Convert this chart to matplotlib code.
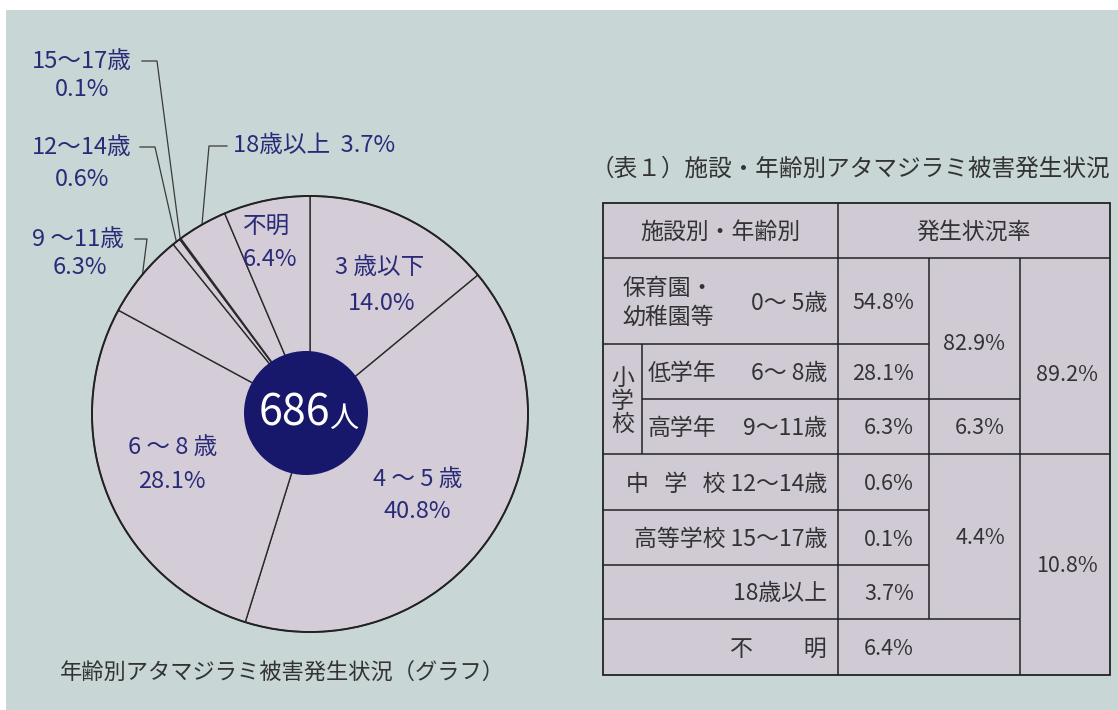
import matplotlib
matplotlib.use("Agg")
import numpy as np
import matplotlib.pyplot as plt
from matplotlib.patches import Circle, Rectangle

plt.rcParams['font.family'] = ['Noto Sans CJK JP', 'DejaVu Sans']

# pie: share of cases by age, clockwise from 12 o'clock
ages = ["3 歳以下", "4 ～ 5 歳", "6 ～ 8 歳", "9 ～11歳", "12～14歳", "15～17歳", "18歳以上", "不明"]
shares = [14.0, 40.8, 28.1, 6.3, 0.6, 0.1, 3.7, 6.4]
total_people = "686"

# table 1: rate by facility / age
tbl_facility = ["保育園・\n幼稚園等", "低学年", "高学年", "中   学   校", "高等学校", "", "不　　 明"]
tbl_age = ["0～ 5歳", "6～ 8歳", "9～11歳", "12～14歳", "15～17歳", "18歳以上", ""]
tbl_rate = ["54.8%", "28.1%", "6.3%", "0.6%", "0.1%", "3.7%", "6.4%"]
sub_totals = ["82.9%", "6.3%", "4.4%"]
sub_rows = [(0, 1), (2, 2), (3, 5)]
grand_totals = ["89.2%", "10.8%"]
grand_rows = [(0, 2), (3, 6)]

BG = "#c8d7d5"
WEDGE = "#d4cdd8"
TABLE = "#d0cad5"
NAVY = "#2a2b78"
DARK = "#333333"

fig = plt.figure(figsize=(11.18, 7.10), dpi=100, facecolor="white")
ax = fig.add_axes([0, 0, 1, 1])
ax.add_patch(Rectangle((6, 10), 1118, 710, facecolor=BG, edgecolor="none", zorder=0))

# ---- pie ----
cx, cy, r = 310, 414, 218
wedges, _ = ax.pie(shares, center=(cx, cy), radius=r, startangle=-90, counterclock=True,
                   colors=[WEDGE] * len(shares),
                   wedgeprops=dict(edgecolor="#2a2a2a", linewidth=1.0))
ax.add_patch(Circle((cx, cy), r, fill=False, edgecolor="#222222", linewidth=1.4, zorder=3))
ax.add_patch(Circle((cx - 4, cy - 1), 62, facecolor="#17176c", edgecolor="none", zorder=4))
ax.text(294, 413, total_people, color="white", fontsize=31, ha="center", va="center", zorder=5)
ax.text(344, 419, "人", color="white", fontsize=21, ha="center", va="center", zorder=5)

fs = 17
pct = [f"{v:.1f}%" for v in shares]

# labels inside the wedges
ax.text(380, 268, ages[0], color=NAVY, fontsize=fs, ha="center", va="center")
ax.text(382, 303, pct[0], color=NAVY, fontsize=fs, ha="center", va="center")
ax.text(418, 480, ages[1], color=NAVY, fontsize=fs, ha="center", va="center")
ax.text(417, 512, pct[1], color=NAVY, fontsize=fs, ha="center", va="center")
ax.text(173, 448, ages[2], color=NAVY, fontsize=fs, ha="center", va="center")
ax.text(172, 481, pct[2], color=NAVY, fontsize=fs, ha="center", va="center")
ax.text(243, 226, ages[7], color=NAVY, fontsize=fs, ha="left", va="center")
ax.text(243, 260, pct[7], color=NAVY, fontsize=fs, ha="left", va="center")


def edge_point(i):
    w = wedges[i]
    a = np.deg2rad((w.theta1 + w.theta2) / 2)
    return cx + r * np.cos(a), cy + r * np.sin(a)


# labels outside with leader lines: (index, name xy, pct xy, tick x0, tick x1, tick y)
outside = [(5, (32, 61), (82, 90), 142, 157, 61),
           (4, (32, 147), (82, 179), 140, 155, 147),
           (3, (32, 239), (80, 268), 135, 147, 239)]
for i, nxy, pxy, x0, x1, ty in outside:
    ax.text(*nxy, ages[i], color=NAVY, fontsize=fs, ha="left", va="center")
    ax.text(*pxy, pct[i], color=NAVY, fontsize=fs, ha="center", va="center")
    ex, ey = edge_point(i)
    ax.plot([x0, x1, ex], [ty, ty, ey], color="#3a3a3a", lw=0.9)

ex, ey = edge_point(6)
ax.plot([227, 209, ex], [146, 146, ey], color="#3a3a3a", lw=0.9)
ax.text(233, 146, f"{ages[6]}  {pct[6]}", color=NAVY, fontsize=fs, ha="left", va="center")

ax.text(282, 672, "年齢別アタマジラミ被害発生状況（グラフ）", color=DARK, fontsize=16,
        ha="center", va="center")

# ---- table ----
tfs = 16.5
nfs = 15.5
ax.text(1110, 169, "（表１）施設・年齢別アタマジラミ被害発生状況", color=DARK, fontsize=17,
        ha="right", va="center")
xl, xs, xa, xb, xc, xr = 603, 642, 838, 929, 1020, 1110
yt, yh = 203, 258
rows_y = [258, 344, 399, 454, 510, 565, 619, 675]
ax.add_patch(Rectangle((xl, yt), xr - xl, rows_y[-1] - yt, facecolor=TABLE,
                       edgecolor="#222222", linewidth=1.3, zorder=1))
lw = 1.1
lc = "#222222"
ax.hlines(yh, xl, xr, color=lc, lw=lw)
ax.hlines(rows_y[1], xl, xb, color=lc, lw=lw)
ax.hlines(rows_y[2], xs, xc, color=lc, lw=lw)
ax.hlines(rows_y[3], xl, xr, color=lc, lw=lw)
ax.hlines(rows_y[4], xl, xb, color=lc, lw=lw)
ax.hlines(rows_y[5], xl, xb, color=lc, lw=lw)
ax.hlines(rows_y[6], xl, xc, color=lc, lw=lw)
ax.vlines(xa, yt, rows_y[-1], color=lc, lw=lw)
ax.vlines(xb, yh, rows_y[6], color=lc, lw=lw)
ax.vlines(xc, yh, rows_y[-1], color=lc, lw=lw)
ax.vlines(xs, rows_y[1], rows_y[3], color=lc, lw=lw)

ax.text((xl + xa) / 2, 232, "施設別・年齢別", color=DARK, fontsize=tfs, ha="center", va="center")
ax.text((xa + xr) / 2, 232, "発生状況率", color=DARK, fontsize=tfs, ha="center", va="center")

for k in range(len(tbl_rate)):
    ym = (rows_y[k] + rows_y[k + 1]) / 2 + 2
    if k == 0:
        ax.text(622, ym, tbl_facility[k], color=DARK, fontsize=tfs, ha="left", va="center",
                linespacing=1.3)
        ax.text(827, ym, tbl_age[k], color=DARK, fontsize=tfs, ha="right", va="center")
    elif k in (1, 2):
        ax.text(648, ym, tbl_facility[k], color=DARK, fontsize=tfs, ha="left", va="center")
        ax.text(827, ym, tbl_age[k], color=DARK, fontsize=tfs, ha="right", va="center")
    else:
        lab = " ".join(s for s in (tbl_facility[k], tbl_age[k]) if s)
        ax.text(827, ym, lab, color=DARK, fontsize=tfs, ha="right", va="center")
    ax.text(914, ym, tbl_rate[k], color=DARK, fontsize=nfs, ha="right", va="center")

ax.text((xl + xs) / 2, (rows_y[1] + rows_y[3]) / 2 + 2, "小\n学\n校", color=DARK, fontsize=tfs,
        ha="center", va="center", linespacing=1.0)

for s, (a, b) in zip(sub_totals, sub_rows):
    ym = (rows_y[a] + rows_y[b + 1]) / 2 + 2
    if a == 0:
        ym = rows_y[1]
    ax.text(1005, ym, s, color=DARK, fontsize=nfs, ha="right", va="center")
for s, (a, b) in zip(grand_totals, grand_rows):
    ym = (rows_y[a] + rows_y[b + 1]) / 2 + 2
    if a == 0:
        ym = 375
    ax.text(1098, ym, s, color=DARK, fontsize=nfs, ha="right", va="center")

ax.set_xlim(0, 1118)
ax.set_ylim(710, 0)
ax.set_aspect("equal")
ax.axis("off")

fig.savefig("out.png", dpi=100, facecolor="white")
